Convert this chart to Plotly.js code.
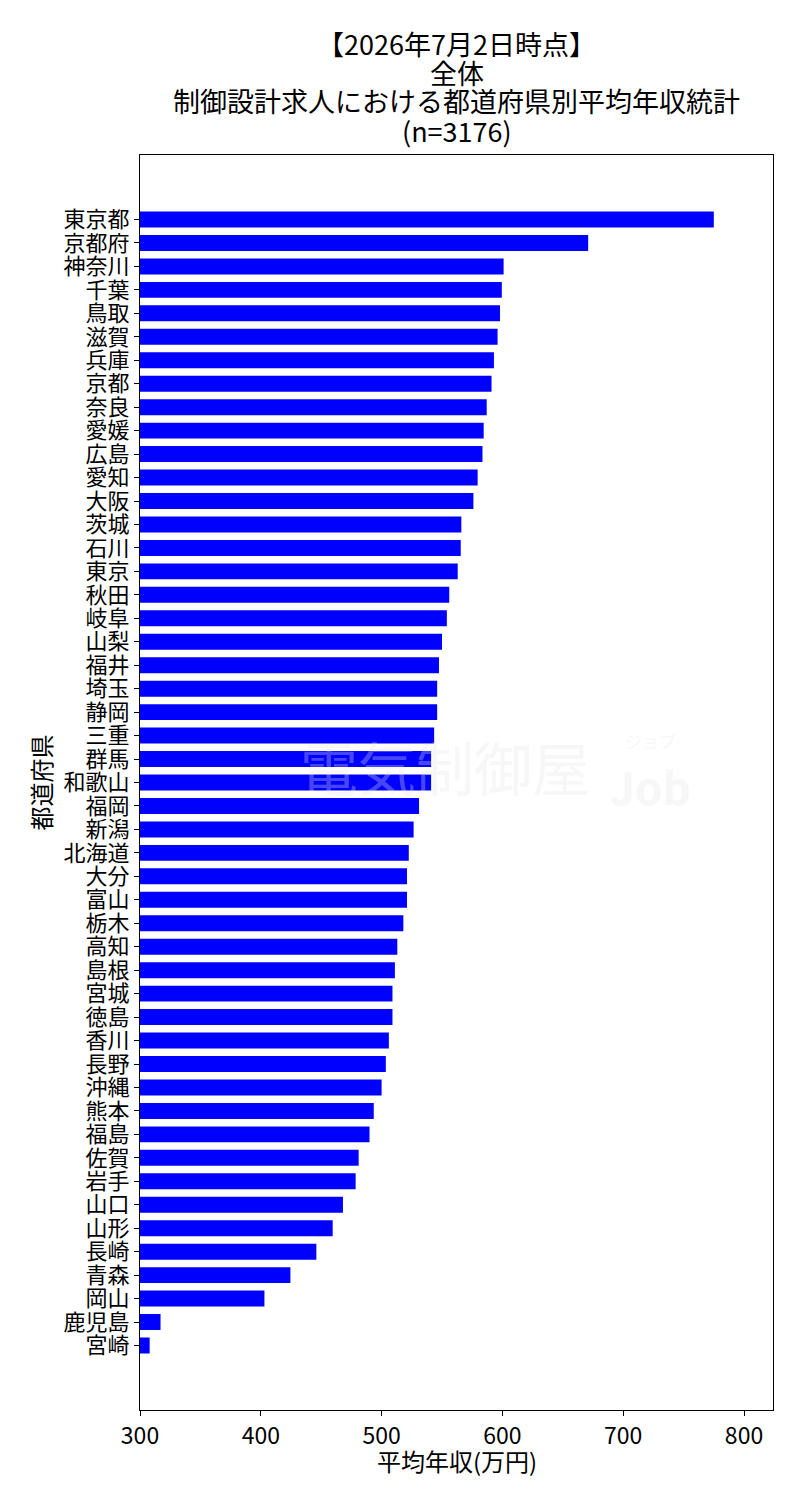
<!DOCTYPE html>
<html>
<head>
<meta charset="utf-8">
<script src="https://cdn.plot.ly/plotly-3.0.1.min.js"></script>
<style>
  html, body { margin: 0; padding: 0; background: #ffffff; }
  #chart { width: 800px; height: 1500px; }
</style>
</head>
<body>
<div id="chart"></div>
<script>
const prefectures = [
  "東京都","京都府","神奈川","千葉","鳥取","滋賀","兵庫","京都","奈良","愛媛",
  "広島","愛知","大阪","茨城","石川","東京","秋田","岐阜","山梨","福井",
  "埼玉","静岡","三重","群馬","和歌山","福岡","新潟","北海道","大分","富山",
  "栃木","高知","島根","宮城","徳島","香川","長野","沖縄","熊本","福島",
  "佐賀","岩手","山口","山形","長崎","青森","岡山","鹿児島","宮崎"
];
const avgSalary = [
  775, 671, 601, 599.5, 598, 596, 593, 591, 587, 584.5,
  583.5, 579.5, 576, 566, 565.5, 563, 556, 554, 550, 547.5,
  546, 546, 543.5, 541, 541, 531, 526.5, 522.5, 521, 521,
  518, 513, 511, 509, 509, 506, 503.5, 500, 493.5, 490,
  481, 478.5, 468, 459.5, 446, 424.5, 403, 317, 308
];
const xTicks = [300, 400, 500, 600, 700, 800];
const titleLines = ["【2026年7月2日時点】", "全体", "制御設計求人における都道府県別平均年収統計", "(n=3176)"];
const xTitle = "平均年収(万円)";
const yTitle = "都道府県";

const FONT = "Noto Sans CJK JP";

const trace = {
  type: "bar",
  orientation: "h",
  x: avgSalary,
  y: prefectures,
  marker: { color: "#0000ff", line: { width: 0 } },
  width: 0.68,
  hoverinfo: "x+y"
};

const titleY = [43, 72, 101, 131];
const annotations = titleLines.map((t, i) => ({
  text: t,
  xref: "paper", yref: "paper",
  x: 0.5, y: 1 + (155 - titleY[i]) / 1255,
  xanchor: "center", yanchor: "middle",
  showarrow: false,
  font: { family: FONT, size: 27, color: "#000000" }
}));

annotations.push({
  text: xTitle,
  xref: "paper", yref: "paper",
  x: 0.5, y: -(1460 - 1410) / 1255,
  xanchor: "center", yanchor: "middle",
  showarrow: false,
  font: { family: FONT, size: 24, color: "#000000" }
});
annotations.push({
  text: yTitle,
  xref: "paper", yref: "paper",
  x: -(140 - 40) / 633, y: 0.5,
  xanchor: "center", yanchor: "middle",
  textangle: -90,
  showarrow: false,
  font: { family: FONT, size: 24, color: "#000000" }
});
// faint watermark
const wmColor = "#e6e6e6";
const wmOpacity = 0.3;
annotations.push({
  text: "電気制御屋",
  xref: "paper", yref: "paper",
  x: (445 - 140) / 633, y: 1 - (766 - 155) / 1255,
  xanchor: "center", yanchor: "middle",
  showarrow: false, opacity: wmOpacity,
  font: { family: FONT, size: 58, color: wmColor }
});
annotations.push({
  text: "<b>Job</b>",
  xref: "paper", yref: "paper",
  x: (650 - 140) / 633, y: 1 - (786 - 155) / 1255,
  xanchor: "center", yanchor: "middle",
  showarrow: false, opacity: wmOpacity,
  font: { family: FONT, size: 44, color: wmColor }
});
annotations.push({
  text: "ジョブ",
  xref: "paper", yref: "paper",
  x: (650 - 140) / 633, y: 1 - (740 - 155) / 1255,
  xanchor: "center", yanchor: "middle",
  showarrow: false, opacity: wmOpacity,
  font: { family: FONT, size: 17, color: wmColor }
});

const layout = {
  width: 800,
  height: 1500,
  margin: { l: 140, r: 27, t: 155, b: 90, pad: 0 },
  paper_bgcolor: "#ffffff",
  plot_bgcolor: "#ffffff",
  showlegend: false,
  font: { family: FONT, size: 22, color: "#000000" },
  xaxis: {
    range: [300, 824],
    tickmode: "array",
    tickvals: xTicks,
    ticktext: xTicks.map(String),
    ticks: "outside",
    ticklen: 5,
    tickwidth: 1,
    tickcolor: "#000000",
    showgrid: false,
    zeroline: false,
    showline: true,
    linecolor: "#000000",
    linewidth: 1,
    mirror: true,
    tickfont: { family: FONT, size: 23, color: "#000000" }
  },
  yaxis: {
    type: "category",
    categoryorder: "array",
    categoryarray: prefectures,
    range: [50.75, -2.75],
    tickmode: "array",
    tickvals: prefectures,
    ticktext: prefectures,
    ticks: "outside",
    ticklen: 5,
    tickwidth: 1,
    tickcolor: "#000000",
    showgrid: false,
    zeroline: false,
    showline: true,
    linecolor: "#000000",
    linewidth: 1,
    mirror: true,
    tickfont: { family: FONT, size: 22, color: "#000000" }
  },
  annotations: annotations
};

Plotly.newPlot("chart", [trace], layout, { staticPlot: true, displayModeBar: false });
</script>
</body>
</html>
